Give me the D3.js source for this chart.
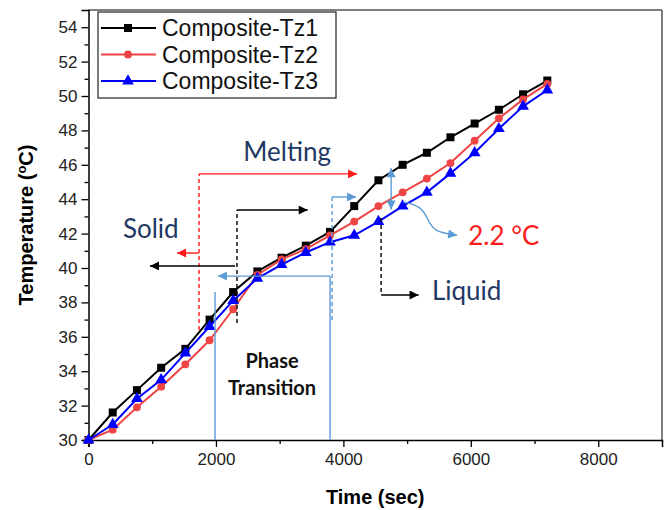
<!DOCTYPE html>
<html>
<head>
<meta charset="utf-8">
<script src="https://cdn.jsdelivr.net/npm/d3@7"></script>
<style>
  body { margin: 0; background: #fff; }
  svg { display: block; }
</style>
</head>
<body>
<svg id="chart" width="666" height="510"></svg>
<script>
// time (sec) and the three thermocouple readings (°C)
const times = [0, 380, 760, 1140, 1520, 1900, 2270, 2650, 3030, 3410, 3790, 4170, 4550, 4930, 5310, 5680, 6060, 6440, 6820, 7200];
const tz1 = [30.0, 31.6, 32.9, 34.2, 35.3, 37.0, 38.6, 39.8, 40.6, 41.3, 42.1, 43.6, 45.1, 46.0, 46.7, 47.6, 48.4, 49.2, 50.1, 50.9];
const tz2 = [30.0, 30.6, 31.9, 33.1, 34.4, 35.8, 37.6, 39.6, 40.5, 41.1, 41.9, 42.7, 43.6, 44.4, 45.2, 46.1, 47.4, 48.7, 49.8, 50.7];
const tz3 = [30.0, 30.9, 32.4, 33.5, 35.05, 36.6, 38.1, 39.4, 40.2, 40.9, 41.5, 41.9, 42.7, 43.6, 44.4, 45.5, 46.7, 48.1, 49.4, 50.35];
const seriesNames = ["Composite-Tz1", "Composite-Tz2", "Composite-Tz3"];
const xTicks = [0, 2000, 4000, 6000, 8000];
const yTicks = [30, 32, 34, 36, 38, 40, 42, 44, 46, 48, 50, 52, 54];

(function tempChart() {
  const svg = d3.select("#chart");
  const margin = { top: 10, right: 4, bottom: 70, left: 88.5 };
  const width = +svg.attr("width") - margin.left - margin.right;
  const height = +svg.attr("height") - margin.top - margin.bottom;
  const g = svg.append("g").attr("transform", `translate(${margin.left},${margin.top})`);

  const x = d3.scaleLinear().domain([0, 9000]).range([0, width]);
  const y = d3.scaleLinear().domain([30, 55]).range([height, 0]);

  const colors = ["#000000", "#ef4444", "#0000ff"];
  const symbols = [d3.symbolSquare, d3.symbolCircle, d3.symbolTriangle];
  const symSize = [64, 48, 60];
  const series = [tz1, tz2, tz3].map((vals, i) => ({
    name: seriesNames[i], color: colors[i], symbol: symbols[i], size: symSize[i],
    points: vals.map((v, j) => ({ t: times[j], v }))
  }));

  const lightBlue = "#5b9bd5", navy = "#1f3864", red = "#ff1a1a";

  // arrow heads
  const defs = svg.append("defs");
  [["k", "#000"], ["r", "#ff1a1a"], ["b", lightBlue]].forEach(([id, c]) => {
    defs.append("marker")
      .attr("id", "arr-" + id)
      .attr("viewBox", "0 0 10 10")
      .attr("refX", 10).attr("refY", 5)
      .attr("markerWidth", 11).attr("markerHeight", 9)
      .attr("markerUnits", "userSpaceOnUse")
      .attr("orient", "auto-start-reverse")
      .append("path").attr("d", "M0,0 L10,5 L0,10 Z").attr("fill", c);
  });

  // frame (top / right)
  g.append("line").attr("x1", 0).attr("x2", width).attr("y1", 0).attr("y2", 0)
    .attr("stroke", "#555").attr("stroke-width", 1.5);
  g.append("line").attr("x1", width).attr("x2", width).attr("y1", 0).attr("y2", height)
    .attr("stroke", "#555").attr("stroke-width", 1.5);

  // axes
  g.append("g").attr("transform", `translate(0,${height})`)
    .call(d3.axisBottom(x).tickValues(xTicks).tickSize(7).tickPadding(6).tickFormat(d3.format("d")));
  g.append("g").attr("transform", `translate(0,${height})`)
    .call(d3.axisBottom(x).tickValues([1000, 3000, 5000, 7000]).tickSize(4).tickFormat(""))
    .select(".domain").remove();
  g.append("g")
    .call(d3.axisLeft(y).tickValues(yTicks).tickSize(7).tickPadding(4));
  g.append("g")
    .call(d3.axisLeft(y).tickValues(d3.range(31, 55, 2)).tickSize(4).tickFormat(""))
    .select(".domain").remove();

  g.selectAll(".tick line").attr("stroke", "#000").attr("stroke-width", 1.3);
  g.selectAll(".domain").attr("stroke", "#000").attr("stroke-width", 1.5);
  g.selectAll(".tick text")
    .style("font-family", "'Liberation Sans', Arial, sans-serif")
    .style("font-size", "17px").attr("fill", "#222");

  svg.append("text")
    .attr("x", margin.left + width / 2).attr("y", 504)
    .attr("text-anchor", "middle")
    .style("font-family", "'Liberation Sans', Arial, sans-serif")
    .style("font-size", "20px").style("font-weight", "bold")
    .text("Time (sec)");

  const yt = svg.append("text")
    .attr("transform", `translate(33,${margin.top + height / 2}) rotate(-90)`)
    .attr("text-anchor", "middle")
    .style("font-family", "'Liberation Sans', Arial, sans-serif")
    .style("font-size", "20px").style("font-weight", "bold");
  yt.append("tspan").text("Temperature (");
  yt.append("tspan").attr("dy", -7).style("font-size", "13px").text("o");
  yt.append("tspan").attr("dy", 7).text("C)");

  // series
  const line = d3.line().x(d => x(d.t)).y(d => y(d.v));
  series.forEach(s => {
    g.append("path").datum(s.points)
      .attr("fill", "none").attr("stroke", s.color).attr("stroke-width", 2)
      .attr("d", line);
    g.selectAll(null).data(s.points).join("path")
      .attr("transform", d => `translate(${x(d.t)},${y(d.v)})`)
      .attr("d", d3.symbol().type(s.symbol).size(s.size))
      .attr("fill", s.color);
  });

  // annotation helpers (positions in data units)
  const seg = (x1, y1, x2, y2, color, opts = {}) => g.append("line")
    .attr("x1", x(x1)).attr("y1", y(y1)).attr("x2", x(x2)).attr("y2", y(y2))
    .attr("stroke", color).attr("stroke-width", opts.w || 1.4)
    .attr("stroke-dasharray", opts.dash || null)
    .attr("marker-end", opts.end ? `url(#arr-${opts.end})` : null)
    .attr("marker-start", opts.start ? `url(#arr-${opts.start})` : null);

  // melting (red)
  seg(1735, 36.4, 1735, 45.47, red, { dash: "4,3" });
  seg(1735, 45.47, 4215, 45.47, red, { end: "r" });
  seg(1735, 40.87, 1390, 40.87, red, { end: "r" });
  // black bracket
  seg(2330, 36.8, 2330, 43.37, "#000", { dash: "4,3" });
  seg(2330, 43.37, 3440, 43.37, "#000", { end: "k" });
  seg(2300, 40.12, 965, 40.12, "#000", { end: "k" });
  // light blue
  seg(3823, 36.98, 3823, 44.13, lightBlue, { dash: "4,3" });
  seg(3823, 44.13, 4200, 44.13, lightBlue, { end: "b" });
  seg(3791, 30, 3791, 39.53, lightBlue);
  seg(3791, 39.53, 2030, 39.53, lightBlue, { end: "b" });
  seg(1986, 30, 1986, 38.6, lightBlue);
  // liquid (black)
  seg(4592, 42.9, 4592, 38.43, "#000", { dash: "4,3" });
  seg(4592, 38.43, 5180, 38.43, "#000", { end: "k" });
  // 2.2 °C double arrow and curved pointer
  seg(4749, 45.8, 4749, 43.4, lightBlue, { start: "b", end: "b" });
  const curve = d3.line().x(d => x(d[0])).y(d => y(d[1])).curve(d3.curveBasis);
  g.append("path")
    .datum([[4937, 43.84], [5220, 43.6], [5330, 42.8], [5420, 42.1], [5785, 41.9]])
    .attr("fill", "none").attr("stroke", lightBlue).attr("stroke-width", 1.4)
    .attr("d", curve).attr("marker-end", "url(#arr-b)");

  const label = (t, v, txt, color, size, weight) => g.append("text")
    .attr("x", x(t)).attr("y", y(v))
    .style("font-family", "Lato, 'Open Sans', sans-serif")
    .style("font-size", size + "px").style("font-weight", weight || "normal")
    .attr("fill", color).text(txt);

  label(2430, 46.2, "Melting", navy, 26);
  label(540, 41.75, "Solid", navy, 26);
  label(5390, 38.15, "Liquid", navy, 26);
  label(5960, 41.35, "2.2 °C", red, 26);
  label(2880, 34.2, "Phase", "#111", 20, "bold").attr("text-anchor", "middle");
  label(2880, 32.6, "Transition", "#111", 20, "bold").attr("text-anchor", "middle");

  // legend
  const lg = g.append("g").attr("transform", "translate(9.5,2)");
  lg.append("rect").attr("width", 238).attr("height", 86)
    .attr("fill", "#fff").attr("stroke", "#222").attr("stroke-width", 1.2);
  series.forEach((s, i) => {
    const row = lg.append("g").attr("transform", `translate(0,${16 + i * 26.5})`);
    row.append("line").attr("x1", 3).attr("x2", 58).attr("stroke", s.color).attr("stroke-width", 2);
    row.append("path").attr("transform", "translate(30,0)")
      .attr("d", d3.symbol().type(s.symbol).size(s.size)).attr("fill", s.color);
    row.append("text").attr("x", 64).attr("dy", "0.36em")
      .style("font-family", "'Liberation Sans', Arial, sans-serif")
      .style("font-size", "23px").attr("fill", "#111").text(s.name);
  });
})();
</script>
</body>
</html>
